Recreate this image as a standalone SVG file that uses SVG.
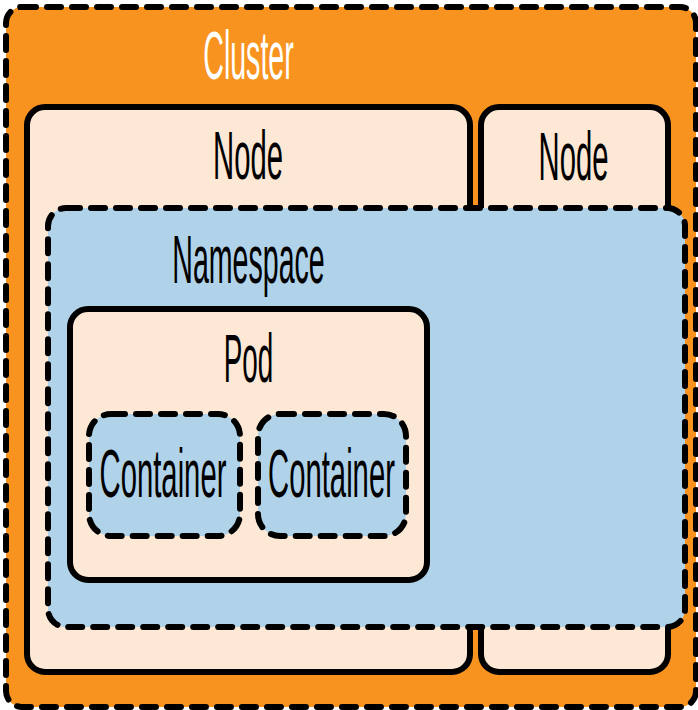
<svg xmlns="http://www.w3.org/2000/svg" width="698" height="710" viewBox="0 0 698 710">
<style>
.solid{stroke:#000;stroke-width:6;}
.dash{stroke:#000;stroke-width:6;stroke-dasharray:14 11;stroke-linecap:round;}
.peach{fill:#FCE8D4;}
.blue{fill:#B0D3EA;}
.lbl{font-family:"Liberation Sans",Arial,sans-serif;font-size:68px;fill:#000;text-anchor:middle;}
.white{fill:#fff;}
</style>
<rect width="698" height="710" fill="#fff"/>
<g id="cluster">
<rect x="6" y="7" width="690" height="700" rx="16" fill="#F7931E" class="dash"/>
<text class="lbl white" transform="translate(248.5,79) scale(0.42,1)">Cluster</text>
</g>
<g id="node1">
<rect x="27" y="107" width="443" height="565" rx="18" class="solid peach"/>
<text class="lbl" transform="translate(248,179) scale(0.43,1)">Node</text>
</g>
<g id="node2">
<rect x="481" y="107" width="187" height="565" rx="18" class="solid peach"/>
<text class="lbl" transform="translate(573.5,180) scale(0.43,1)">Node</text>
</g>
<g id="namespace">
<rect x="48" y="208" width="637" height="419" rx="18" class="dash blue"/>
<text class="lbl" transform="translate(248.5,283) scale(0.42,1)">Namespace</text>
</g>
<g id="pod">
<rect x="70" y="309" width="357" height="271" rx="18" class="solid peach"/>
<text class="lbl" transform="translate(248.5,382) scale(0.41,1)">Pod</text>
</g>
<g id="container1">
<rect x="89" y="414" width="151" height="122" rx="22" class="dash blue"/>
<text class="lbl" transform="translate(163,497) scale(0.43,1)">Container</text>
</g>
<g id="container2">
<rect x="258" y="414" width="148" height="122" rx="22" class="dash blue"/>
<text class="lbl" transform="translate(331.5,497) scale(0.43,1)">Container</text>
</g>
</svg>
